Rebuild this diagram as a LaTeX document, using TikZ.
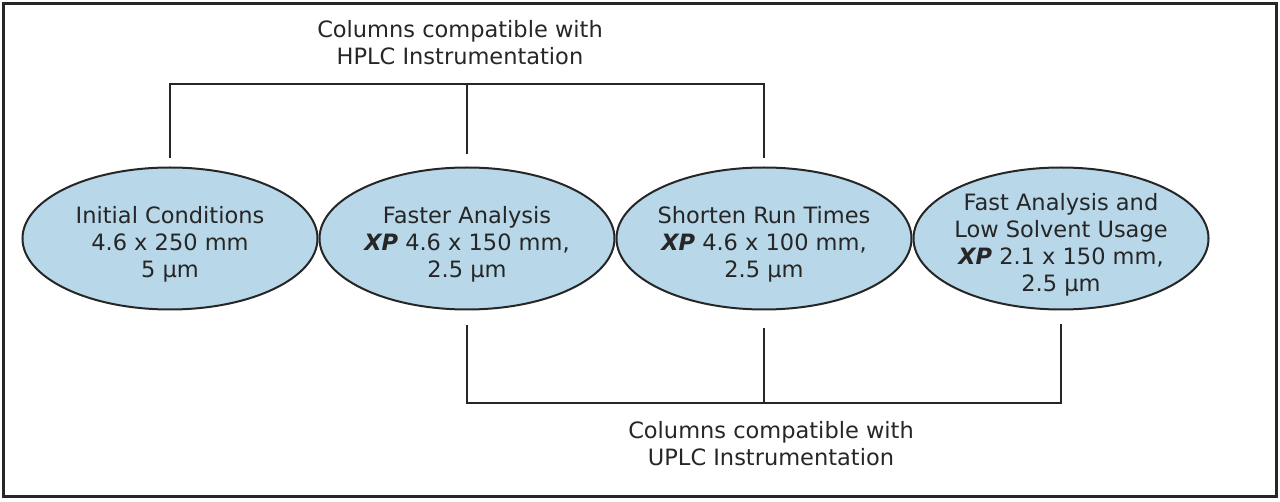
\documentclass[tikz,border=0pt]{standalone}
\usepackage{fontspec}
\setmainfont{DejaVu Sans}
\usetikzlibrary{positioning, calc, shapes.geometric}
\definecolor{ovalblue}{RGB}{184,215,232}
\definecolor{inkgray}{RGB}{38,38,38}

\begin{document}
\begin{tikzpicture}[x=1pt, y=1pt, node distance=0pt, every node/.style = {align=center, text=inkgray, font=\fontsize{22.5}{27}\selectfont}, oval/.style = {shape=ellipse, draw=inkgray, line width=2pt, fill=ovalblue, inner sep=-20pt, text height=#1, minimum width=295pt, minimum height=142pt}, oval/.default=83pt, bracket/.style = {draw=inkgray, line width=2pt}]
    \useasboundingbox (0,0) rectangle (1280,501);
    \draw[line width=3pt, draw=inkgray] (3.3,4.5) rectangle (1276.5,497.5);
    \node[oval] (init) at (170,262.5) {Initial Conditions\\4.6 x 250 mm\\5 µm};
    \node[oval, right=of init] (faster) {Faster Analysis\\\textbf{\textit{XP}} 4.6 x 150 mm,\\2.5 µm};
    \node[oval, right=of faster] (shorten) {Shorten Run Times\\\textbf{\textit{XP}} 4.6 x 100 mm,\\2.5 µm};
    \node[oval=110pt, right=of shorten] (lowsolv) {Fast Analysis and\\Low Solvent Usage\\\textbf{\textit{XP}} 2.1 x 150 mm,\\2.5 µm};
    \coordinate (hbar) at (0,417);
    \coordinate (ubar) at (0,98);
    \draw[bracket] ([yshift=8pt]init.north) -- (init.north |- hbar) -- (shorten.north |- hbar) -- ([yshift=8pt]shorten.north);
    \draw[bracket] ([yshift=12pt]faster.north) -- (faster.north |- hbar);
    \draw[bracket] ([yshift=-15pt]faster.south) -- (faster.south |- ubar) -- (lowsolv.south |- ubar) -- ([yshift=-14pt]lowsolv.south);
    \draw[bracket] ([yshift=-18pt]shorten.south) -- (shorten.south |- ubar);
    \node (hplc) at (460,458) {Columns compatible with\\HPLC Instrumentation};
    \node (uplc) at (771,57.5) {Columns compatible with\\UPLC Instrumentation};
\end{tikzpicture}
\end{document}
